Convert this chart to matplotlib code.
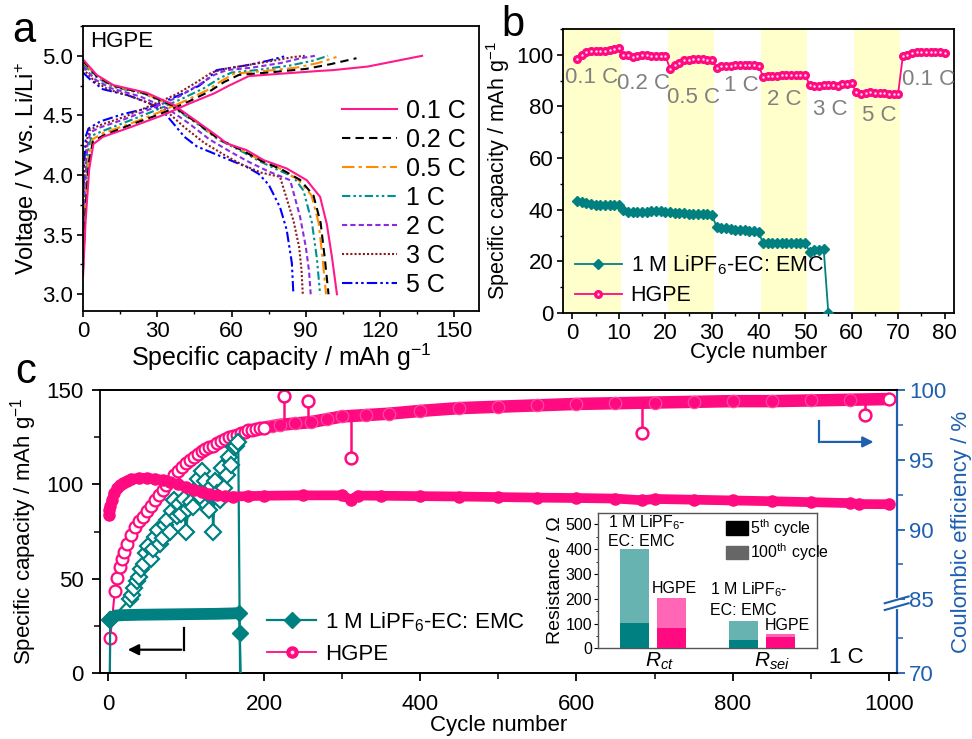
import numpy as np
import matplotlib
matplotlib.use('Agg')
import matplotlib.pyplot as plt
from matplotlib.lines import Line2D
from matplotlib.patches import Patch
from matplotlib.ticker import MultipleLocator

plt.rcParams['font.family'] = ['Liberation Sans', 'DejaVu Sans']
plt.rcParams['mathtext.fontset'] = 'custom'
plt.rcParams['mathtext.rm'] = 'Liberation Sans'
plt.rcParams['mathtext.it'] = 'Liberation Sans:italic'
plt.rcParams['axes.linewidth'] = 1.3

PINK = '#ff0a80'
TEAL = '#008080'
BLUE = '#1f5fb0'
GRAY = '#808080'

# ---------------- panel a data (capacity mAh/g, voltage V) ----------------
rates = ['0.1 C', '0.2 C', '0.5 C', '1 C', '2 C', '3 C', '5 C']

chg_cap = [
    [0, 1, 2.5, 4.2, 8, 19, 32, 43, 53, 59, 67, 80, 96, 101, 115, 137],
    [0, 1, 2.3, 4, 8, 19, 31, 42, 51, 57, 63, 75, 90, 100, 110.5],
    [0, 1, 2.2, 3.8, 8, 19, 30, 41, 50, 56, 61, 72, 86, 95, 102.4],
    [0, 1, 2, 3.5, 8, 18, 29, 40, 49, 55, 60, 70, 84, 93, 99],
    [0, 0.8, 1.8, 3, 7, 17, 28, 39, 47, 53, 58, 68, 80, 88, 93.7],
    [0, 0.7, 1.6, 2.8, 7, 17, 27, 38, 46, 52, 57, 66, 77, 85, 89.6],
    [0, 0.5, 1.2, 2.2, 7, 16, 26, 39, 47, 50, 54, 60, 66, 75, 82.2],
]
chg_v = [
    [3.15, 3.6, 4.05, 4.26, 4.32, 4.40, 4.50, 4.60, 4.685, 4.75, 4.83, 4.85, 4.874, 4.88, 4.91, 5.00],
    [3.2, 3.7, 4.1, 4.28, 4.33, 4.42, 4.51, 4.61, 4.70, 4.78, 4.84, 4.86, 4.89, 4.93, 4.98],
    [3.25, 3.75, 4.15, 4.30, 4.35, 4.43, 4.52, 4.62, 4.71, 4.79, 4.85, 4.87, 4.90, 4.94, 4.99],
    [3.3, 3.8, 4.2, 4.33, 4.37, 4.45, 4.54, 4.64, 4.73, 4.81, 4.86, 4.88, 4.92, 4.96, 5.00],
    [3.4, 3.9, 4.25, 4.36, 4.40, 4.47, 4.56, 4.66, 4.76, 4.84, 4.88, 4.90, 4.94, 4.98, 5.00],
    [3.5, 4.0, 4.3, 4.38, 4.42, 4.49, 4.58, 4.68, 4.78, 4.86, 4.89, 4.92, 4.96, 4.99, 5.00],
    [3.7, 4.1, 4.33, 4.39, 4.45, 4.51, 4.56, 4.67, 4.75, 4.80, 4.88, 4.90, 4.92, 4.96, 5.00],
]
dis_cap = [
    [0, 5.5, 12.3, 25.7, 36.5, 46, 55.4, 58, 66, 73, 82.3, 90.4, 95.8, 98.5, 100.6, 102.6],
    [0, 5.5, 12, 25, 36, 46, 55, 65, 72, 80, 87.7, 93.1, 96, 97.7, 99.2],
    [0, 5.5, 12, 25, 36, 46, 55, 65, 72, 80, 87, 92.3, 95.2, 96.8, 98.2],
    [0, 5.5, 12, 25, 35.5, 45.5, 54.5, 64, 71, 78, 85, 89.1, 92.5, 94.5, 95.8],
    [0, 5, 11, 23, 34, 43, 51, 60, 67, 75, 83.7, 87.7, 90, 91.3, 92],
    [0, 4.5, 10, 21, 33, 41, 49, 57, 64, 72, 79.6, 85, 87.3, 88.3, 88.8],
    [0, 3, 8, 18, 27, 33, 37, 41, 46, 53, 60, 66, 71, 75, 79.6, 82.3, 84.4, 85],
]
dis_v = [
    [4.97, 4.84, 4.754, 4.69, 4.59, 4.45, 4.31, 4.265, 4.21, 4.125, 4.055, 3.957, 3.817, 3.59, 3.31, 3.0],
    [4.96, 4.83, 4.75, 4.685, 4.585, 4.44, 4.30, 4.20, 4.12, 4.05, 3.96, 3.83, 3.6, 3.3, 3.0],
    [4.95, 4.83, 4.75, 4.685, 4.58, 4.44, 4.30, 4.20, 4.12, 4.05, 3.96, 3.83, 3.6, 3.3, 3.0],
    [4.93, 4.82, 4.74, 4.68, 4.58, 4.44, 4.30, 4.20, 4.12, 4.05, 3.985, 3.87, 3.6, 3.3, 3.0],
    [4.91, 4.80, 4.73, 4.66, 4.56, 4.43, 4.30, 4.19, 4.11, 4.03, 3.957, 3.65, 3.4, 3.2, 3.0],
    [4.89, 4.79, 4.72, 4.65, 4.55, 4.40, 4.27, 4.17, 4.09, 4.02, 3.985, 3.62, 3.4, 3.2, 3.0],
    [4.86, 4.80, 4.72, 4.67, 4.60, 4.52, 4.42, 4.32, 4.24, 4.18, 4.12, 4.07, 4.01, 3.92, 3.73, 3.54, 3.26, 3.0],
]

# ---------------- panel b data ----------------
cyc_b = np.arange(1, 81)
hgpe_b = [98.2, 100.0, 101.0, 101.3, 101.5, 101.5, 101.6, 101.8, 102.2, 102.5,
          100.0, 99.8, 99.0, 99.7, 100.0, 99.8, 99.7, 99.7, 99.6, 99.7,
          94.5, 96.0, 97.0, 97.8, 98.0, 98.2, 98.2, 98.2, 98.1, 98.1,
          95.0, 95.5, 95.8, 95.8, 95.9, 95.9, 95.9, 95.9, 95.9, 95.8,
          91.5, 91.7, 91.8, 91.9, 92.0, 92.0, 92.0, 92.0, 92.0, 92.2,
          88.3, 88.0, 88.0, 88.2, 88.3, 88.2, 88.0, 88.5, 88.7, 89.0,
          85.5, 84.8, 85.3, 85.4, 85.3, 85.3, 85.3, 84.8, 85.0, 85.0,
          99.5, 100.0, 100.8, 101.0, 101.0, 101.0, 101.0, 101.2, 101.2, 100.8]
cyc_liq_b = np.arange(1, 56)
liq_b = [43.5, 42.8, 42.5, 42.2, 42.0, 42.0, 41.8, 41.8, 41.8, 41.8,
         40.0, 39.0, 39.0, 39.2, 39.3, 39.3, 39.5, 39.5, 39.4, 39.3,
         39.0, 38.8, 38.8, 38.6, 38.5, 38.5, 38.4, 38.4, 38.2, 38.0,
         33.3, 33.0, 32.8, 32.5, 32.3, 32.0, 32.0, 31.8, 31.6, 31.3,
         27.0, 27.0, 27.0, 27.0, 27.0, 27.0, 27.0, 27.0, 27.0, 27.0,
         23.8, 24.3, 24.5, 24.8, 0.0]
rate_labels = ['0.1 C', '0.2 C', '0.5 C', '1 C', '2 C', '3 C', '5 C', '0.1 C']
rate_lab_x = [4.1, 15.2, 26.0, 36.4, 45.5, 55.5, 66.0, 76.6]
rate_lab_y = [91.2, 88.7, 83.5, 88.0, 82.5, 79.0, 76.4, 90.6]
shade = [(-2, 10.5), (20.5, 30.5), (40.5, 50.5), (60.5, 70.5)]

# ---------------- panel c data ----------------
hg_cap_cyc = [1, 2, 3, 5, 8, 12, 16, 20, 25, 30, 40, 50, 60, 70, 80, 90, 100, 110, 120, 130,
              140, 150, 160, 180, 200, 250, 300, 311, 320, 350, 400, 450, 500, 550, 600,
              650, 684, 700, 750, 800, 850, 900, 950, 962, 1000]
hg_cap = [84.0, 86.5, 88.5, 92.0, 95.5, 98.0, 99.8, 101.0, 102.0, 102.8, 103.5, 103.4, 103.0,
          102.4, 101.2, 100.0, 98.5, 97.0, 95.8, 94.9, 94.2, 93.8, 93.6, 93.8, 94.0, 94.2,
          94.2, 92.0, 94.1, 94.0, 93.8, 93.6, 93.3, 93.0, 92.8, 92.5, 91.6, 92.3, 91.9, 91.5,
          91.1, 90.6, 90.1, 89.6, 89.5]

hg_ce_cyc = [2, 3, 9, 12, 15, 18, 21, 25, 30, 35, 40, 45, 50, 55, 60, 65, 70, 75, 80, 85, 90,
             95, 100, 105, 110, 115, 120, 125, 130, 135, 140, 145, 150, 155, 160, 165, 170,
             175, 180, 185, 190, 195, 200, 210, 220, 240, 260, 280, 300, 330, 360, 400, 450,
             500, 550, 600, 650, 700, 750, 800, 850, 900, 950, 1000]
hg_ce = [60.0, 75.0, 85.6, 86.5, 87.3, 87.9, 88.4, 89.0, 89.6, 90.2, 90.6, 90.9, 91.3, 91.7,
         92.1, 92.5, 92.8, 93.2, 93.5, 93.9, 94.2, 94.5, 94.8, 95.0, 95.2, 95.4, 95.6, 95.75,
         95.9, 96.0, 96.2, 96.35, 96.5, 96.6, 96.7, 96.8, 96.9, 97.0, 97.1, 97.15, 97.2,
         97.25, 97.3, 97.4, 97.5, 97.6, 97.7, 97.9, 98.1, 98.2, 98.3, 98.5, 98.7, 98.8, 98.9,
         99.0, 99.05, 99.1, 99.15, 99.2, 99.2, 99.25, 99.3, 99.35]
# single-cycle outliers of HGPE CE: cycle, value, neighbouring value
hg_out_cyc = [226, 256, 311, 684, 969]
hg_out_ce = [99.6, 99.2, 95.1, 96.9, 98.2]
hg_out_base = [97.6, 97.7, 98.15, 99.05, 99.25]

liq_cap_cyc = [3, 10, 20, 40, 60, 80, 100, 120, 140, 160, 168, 169, 170]
liq_cap = [29.0, 30.6, 30.8, 31.0, 31.1, 31.2, 31.3, 31.4, 31.5, 31.7, 31.9, 21.5, 0.0]

liq_ce_cyc = [2, 3, 28, 31, 34, 37, 40, 43, 46, 49, 52, 55, 58, 61, 64, 67, 70, 73, 76, 79, 82,
              85, 88, 91, 94, 97, 100, 103, 106, 109, 112, 115, 118, 121, 124, 127, 130, 133,
              135, 137, 140, 143, 146, 149, 152, 155, 158, 161, 164, 167, 170]
liq_ce = [60.0, 77.6, 85.0, 85.3, 85.8, 86.3, 86.6, 87.2, 87.5, 88.3, 88.8, 87.9, 88.6, 89.5,
          90.0, 89.0, 89.4, 90.3, 90.7, 89.8, 91.3, 92.1, 91.0, 91.8, 91.1, 92.2, 89.8, 91.5,
          92.0, 91.6, 92.8, 93.6, 92.4, 94.2, 93.5, 92.6, 91.4, 93.1, 89.8, 93.5, 92.6, 92.1,
          94.4, 93.0, 93.9, 95.2, 94.6, 95.9, 96.0, 96.3, 60.0]

# inset: EIS resistances (Ohm)
res_pos = [1, 2, 4, 5]
res_5th = [102, 83, 33, 47]
res_100th = [400, 203, 110, 58]
res_dark = [TEAL, PINK, TEAL, PINK]
res_light = ['#66b3b2', '#ff66b5', '#66b3b2', '#ff66b5']


def ce_fwd(v):
    v = np.asarray(v, float)
    return np.where(v < 80, (v - 70) * 7.0,
                    np.where(v < 84.74, 70 + (v - 80) * 0.5 / 4.74, 70.5 + (v - 84.74) * 14.0))


def ce_inv(p):
    p = np.asarray(p, float)
    return np.where(p < 70, 70 + p / 7.0,
                    np.where(p < 70.5, 80 + (p - 70) * 4.74 / 0.5, 84.74 + (p - 70.5) / 14.0))


fig = plt.figure(figsize=(9.72, 7.39), dpi=100)

# ======================= panel a =======================
ax = fig.add_axes([0.0854, 0.5792, 0.4074, 0.3856])
colors = ['#ff1a8c', 'black', '#ff8c00', '#009090', '#8a2be2', '#8b1a1a', '#0000ff']
styles = ['-', (0, (4, 2.5)), (0, (6, 2, 1.5, 2)), (0, (4, 1.5, 1.2, 1.5, 1.2, 1.5)),
          (0, (2.5, 1.5)), (0, (1, 1)), (0, (5, 1.5, 1.2, 1.5, 1.2, 1.5))]
for i in range(len(rates))[::-1]:
    ax.plot(chg_cap[i], chg_v[i], color=colors[i], ls=styles[i], lw=1.5)
    ax.plot(dis_cap[i], dis_v[i], color=colors[i], ls=styles[i], lw=1.5, label=rates[i])
h, l = ax.get_legend_handles_labels()
ax.legend(h[::-1], l[::-1], loc='lower right', frameon=False, fontsize=18,
          handlelength=2.2, labelspacing=0.2, handletextpad=0.35, borderaxespad=0.15)
ax.set_xlim(0, 160)
ax.set_ylim(2.86, 5.25)
ax.set_xticks([0, 30, 60, 90, 120, 150])
ax.set_yticks([3.0, 3.5, 4.0, 4.5, 5.0])
ax.xaxis.set_minor_locator(MultipleLocator(15))
ax.yaxis.set_minor_locator(MultipleLocator(0.25))
ax.tick_params(which='both', direction='out', labelsize=16, pad=3)
ax.tick_params(which='major', length=4, width=1.2)
ax.tick_params(which='minor', length=2.5, width=1.0)
ax.set_xlabel('Specific capacity / mAh g$^{-1}$', fontsize=18, labelpad=0)
ax.set_ylabel('Voltage / V vs. Li/Li$^{+}$', fontsize=17, labelpad=1)
ax.text(2.8, 5.117, 'HGPE', fontsize=16, va='center', ha='left')

# ======================= panel b =======================
bx = fig.add_axes([0.5792, 0.5765, 0.4023, 0.3843])
for a0, a1 in shade:
    bx.axvspan(a0, a1, color='#ffffcc', lw=0, zorder=0)
l1, = bx.plot(cyc_liq_b, liq_b, color=TEAL, lw=1.3, marker='D', ms=5.5, mec=TEAL, mfc=TEAL, zorder=3)
l2, = bx.plot(cyc_b, hgpe_b, color=PINK, lw=1.3, marker='o', ms=5.5, mec=PINK, mfc=PINK, zorder=3)
l3, = bx.plot(cyc_b, hgpe_b, ls='none', marker='o', ms=1.8, mec='none', mfc='#ffd6ea', zorder=4)
for s, xx, yy in zip(rate_labels, rate_lab_x, rate_lab_y):
    bx.text(xx, yy, s, color=GRAY, fontsize=16, ha='center', va='center')
bx.legend([l1, (l2, l3)], ['1 M LiPF$_6$-EC: EMC', 'HGPE'], loc='lower left', frameon=False,
          fontsize=15.5, handlelength=2.2, labelspacing=0.4, handletextpad=0.4,
          bbox_to_anchor=(-0.02, -0.045))
bx.set_xlim(-2, 82)
bx.set_ylim(0, 110)
bx.set_xticks(range(0, 81, 10))
bx.set_yticks(range(0, 101, 20))
bx.xaxis.set_minor_locator(MultipleLocator(5))
bx.yaxis.set_minor_locator(MultipleLocator(10))
bx.tick_params(which='both', direction='out', labelsize=16, pad=3)
bx.tick_params(which='major', length=4, width=1.2)
bx.tick_params(which='minor', length=2.5, width=1.0)
bx.set_xlabel('Cycle number', fontsize=16, labelpad=-1)
bx.set_ylabel('Specific capacity / mAh g$^{-1}$', fontsize=15.5, labelpad=3)

# ======================= panel c =======================
cx = fig.add_axes([0.1029, 0.0889, 0.8196, 0.3834])
rx = cx.twinx()
rx.set_yscale('function', functions=(ce_fwd, ce_inv))
cx.set_zorder(rx.get_zorder() + 1)
cx.patch.set_visible(False)

# capacity (left axis)
cx.plot(hg_cap_cyc, hg_cap, color=PINK, lw=7, solid_capstyle='round', zorder=2)
hcap, = cx.plot(hg_cap_cyc, hg_cap, color=PINK, lw=1.3, marker='o', ms=8, mfc=PINK, mec=PINK, zorder=2)
hdot = Line2D([], [], ls='none', marker='o', ms=2.8, mec='none', mfc='#ffd6ea')
lc = np.array(liq_cap_cyc)
lcap = np.array(liq_cap)
cx.plot(lc[:-2], lcap[:-2], color=TEAL, lw=8.5, solid_capstyle='butt', zorder=3)
lline, = cx.plot(liq_cap_cyc, liq_cap, color=TEAL, lw=1.6, marker='D', ms=8, mfc=TEAL, mec=TEAL,
                 markevery=[0, 10, 11], zorder=3)

# coulombic efficiency (right axis)
hce_c = np.array(hg_ce_cyc)
hce = np.array(hg_ce)
rise = hce_c <= 200
band = hce_c >= 200
rx.plot(hce_c[band], hce[band], color=PINK, lw=9, solid_capstyle='round', zorder=2)
rx.plot(hce_c[band], hce[band], ls='none', marker='o', ms=9, mfc=PINK, mec='#ff4fa3', mew=0.8,
        zorder=2)
rx.plot(hce_c[rise], hce[rise], color=PINK, lw=1.5, marker='o', ms=8.5, mfc='white', mec=PINK,
        mew=1.6, zorder=2)
rx.plot(hce_c[-1:], hce[-1:], ls='none', marker='o', ms=8.5, mfc='white', mec=PINK, mew=1.6,
        zorder=3)
for xo, yo, yb in zip(hg_out_cyc, hg_out_ce, hg_out_base):
    rx.plot([xo, xo], [yb, yo], color=PINK, lw=1.8, zorder=2)
    rx.plot([xo], [yo], ls='none', marker='o', ms=8.5, mfc='white', mec=PINK, mew=1.8, zorder=3)
rx.plot(liq_ce_cyc, liq_ce, color=TEAL, lw=1.6, marker='D', ms=8.5, mfc='white', mec=TEAL, mew=1.6,
        zorder=4)

cx.set_xlim(-10, 1010)
cx.set_ylim(0, 150)
rx.set_ylim(70, 100)
cx.set_xticks(range(0, 1001, 200))
cx.set_yticks([0, 50, 100, 150])
cx.xaxis.set_minor_locator(MultipleLocator(100))
cx.yaxis.set_minor_locator(MultipleLocator(25))
rx.set_yticks([70, 85, 90, 95, 100])
rx.set_yticks([75, 87.5, 92.5, 97.5], minor=True)
rx.set_yticklabels(['70', '85', '90', '95', '100'])
rx.yaxis.set_minor_formatter(plt.NullFormatter())
cx.tick_params(which='both', direction='out', labelsize=16)
cx.tick_params(axis='x', which='both', pad=9)
cx.tick_params(axis='y', which='both', pad=6)
cx.tick_params(which='major', length=6, width=1.3)
cx.tick_params(which='minor', length=4, width=1.1)
rx.tick_params(which='both', direction='out', labelsize=16, colors=BLUE, pad=3)
rx.tick_params(which='major', length=6, width=1.3)
rx.tick_params(which='minor', length=4, width=1.1)
cx.spines['right'].set_visible(False)
rx.spines['right'].set_color(BLUE)
rx.spines['right'].set_linewidth(1.6)
rx.spines['left'].set_visible(False)
cx.set_xlabel('Cycle number', fontsize=16, labelpad=0)
cx.set_ylabel('Specific capacity / mAh g$^{-1}$', fontsize=16, labelpad=5)
rx.set_ylabel('Coulombic efficiency / %', fontsize=16, color=BLUE, labelpad=3)

# axis break on right spine
yb = float(ce_fwd(82.4) / ce_fwd(100))
rx.plot([1, 1], [yb - 0.012, yb + 0.012], transform=rx.transAxes, color='white', lw=3,
        clip_on=False, zorder=10)
for dy in (-0.012, 0.012):
    rx.plot([0.985, 1.015], [yb + dy - 0.012, yb + dy + 0.012], transform=rx.transAxes,
            color=BLUE, lw=1.5, clip_on=False, zorder=11)

# direction arrows
cx.plot([97, 97], [24, 12.5], color='black', lw=1.6)
cx.annotate('', xy=(22, 12.5), xytext=(97.6, 12.5),
            arrowprops=dict(arrowstyle='-|>', color='black', lw=1.6, mutation_scale=16))
cx.plot([910, 910], [133.4, 122.5], color=BLUE, lw=1.6)
cx.annotate('', xy=(984, 122.5), xytext=(909.4, 122.5),
            arrowprops=dict(arrowstyle='-|>', color=BLUE, lw=1.6, mutation_scale=16))

cx.text(946, 8.5, '1 C', fontsize=16, ha='center', va='center')
cx.legend([lline, (hcap, hdot)], ['1 M LiPF$_6$-EC: EMC', 'HGPE'], loc='lower left',
          frameon=False, fontsize=16, handlelength=2.2, labelspacing=0.45, handletextpad=0.4,
          bbox_to_anchor=(0.185, -0.04))

# ======================= inset =======================
ix = fig.add_axes([0.6155, 0.1227, 0.2247, 0.1835])
ix.set_zorder(cx.get_zorder() + 1)
ix.bar(res_pos, res_100th, width=0.8, color=res_light, zorder=2)
ix.bar(res_pos, res_5th, width=0.8, color=res_dark, zorder=3)
ix.set_xlim(0, 6)
ix.set_ylim(0, 547)
ix.set_yticks(range(0, 501, 100))
ix.yaxis.set_minor_locator(MultipleLocator(50))
ix.set_xticks([1.67, 4.77])
ix.set_xticklabels(['$R_{ct}$', '$R_{sei}$'], fontsize=15)
ix.tick_params(axis='x', length=0, pad=2)
ix.tick_params(axis='y', which='both', direction='out', labelsize=11.5, pad=1.5)
ix.tick_params(axis='y', which='major', length=3)
ix.tick_params(axis='y', which='minor', length=1.5)
for s in ix.spines.values():
    s.set_color('#555555')
    s.set_linewidth(1.0)
ix.set_ylabel('Resistance / Ω', fontsize=14, labelpad=1)
ix.text(0.27, 506, '1 M LiPF$_6$-', fontsize=11.5, va='center', ha='left')
ix.text(0.27, 430, 'EC: EMC', fontsize=11.5, va='center', ha='left')
ix.text(1.47, 240, 'HGPE', fontsize=11.5, va='center', ha='left')
ix.text(3.07, 235, '1 M LiPF$_6$-', fontsize=11.5, va='center', ha='left')
ix.text(3.07, 154, 'EC: EMC', fontsize=11.5, va='center', ha='left')
ix.text(4.58, 94, 'HGPE', fontsize=11.5, va='center', ha='left')
ix.legend([Patch(color='black'), Patch(color='#666666')],
          ['5$^{\\rm th}$ cycle', '100$^{\\rm th}$ cycle'], loc='upper left',
          bbox_to_anchor=(0.54, 1.04), frameon=False, fontsize=11.5, handlelength=1.4,
          handleheight=0.9, handletextpad=0.1, labelspacing=0.15, borderaxespad=0.2)

# panel letters
fig.text(0.024, 0.958, 'a', fontsize=30, ha='center', va='center')
fig.text(0.528, 0.966, 'b', fontsize=30, ha='center', va='center')
fig.text(0.026, 0.497, 'c', fontsize=30, ha='center', va='center')

fig.savefig('out.png', dpi=100)
